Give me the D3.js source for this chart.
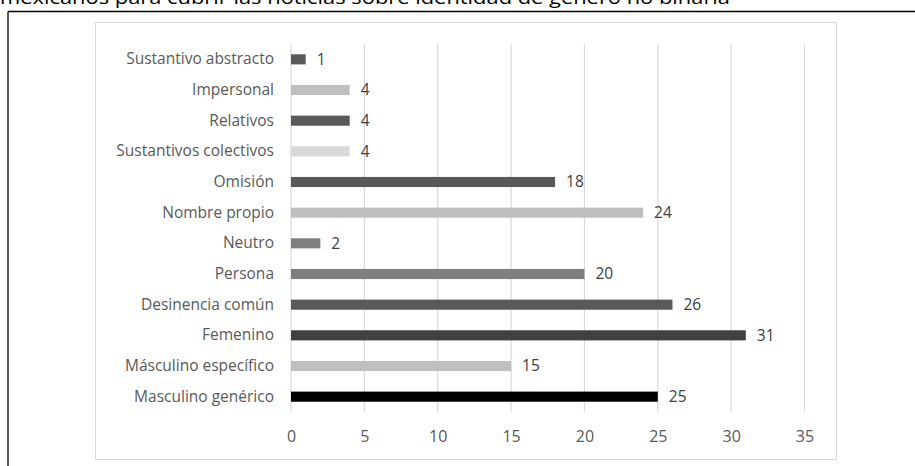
<!DOCTYPE html>
<html><head><meta charset="utf-8">
<script src="https://cdn.jsdelivr.net/npm/d3@7"></script>
<style>body{margin:0;background:#fff;overflow:hidden}svg{display:block}</style>
</head><body>
<svg id="c" width="915" height="466"></svg>
<script>
const categories = ["Sustantivo abstracto","Impersonal","Relativos","Sustantivos colectivos","Omisión","Nombre propio","Neutro","Persona","Desinencia común","Femenino","Másculino específico","Masculino genérico"];
const values = [1,4,4,4,18,24,2,20,26,31,15,25];
const barColors = ["#595959","#bfbfbf","#595959","#d9d9d9","#595959","#bfbfbf","#7f7f7f","#7f7f7f","#595959","#404040","#bfbfbf","#000000"];
const tickValues = [0,5,10,15,20,25,30,35];
const titleText = "mexicanos para cubrir las noticias sobre identidad de género no binaria";

const svg = d3.select("#c");
const font = "'Open Sans', sans-serif";

// page title (cut off at top, as in the source)
svg.append("text").attr("x",0).attr("y",3.5).attr("font-family","'Open Sans', sans-serif")
  .attr("font-size",18).attr("fill","#000").attr("textLength",730).attr("lengthAdjust","spacingAndGlyphs").text(titleText);

// black frame lines
svg.append("line").attr("x1",8).attr("x2",915).attr("y1",11.5).attr("y2",11.5).attr("stroke","#000").attr("stroke-width",1.3);
svg.append("line").attr("x1",8).attr("x2",8).attr("y1",11.5).attr("y2",466).attr("stroke","#000").attr("stroke-width",1.3);

// chart area
svg.append("rect").attr("x",95.5).attr("y",22.5).attr("width",741).attr("height",437).attr("fill","#fff").attr("stroke","#d9d9d9").attr("stroke-width",1);

const x = d3.scaleLinear().domain([0,35]).range([291,804.5]);
const y = d3.scaleBand().domain(categories).range([44,412]).paddingInner(0.67).paddingOuter(0.335);

// gridlines
svg.append("g").selectAll("line").data(tickValues).join("line")
  .attr("x1",d=>x(d)).attr("x2",d=>x(d)).attr("y1",44).attr("y2",412)
  .attr("stroke","#d9d9d9").attr("stroke-width",1.2);

// x axis labels
const xAxis = d3.axisBottom(x).tickValues(tickValues).tickSize(0).tickPadding(0);
const gx = svg.append("g").attr("transform","translate(0,436)").call(xAxis);
gx.select(".domain").remove();
gx.selectAll("text").attr("font-family",font).attr("font-size",16).attr("fill","#595959").attr("dy","0.35em");

// y axis labels
const yAxis = d3.axisLeft(y).tickSize(0).tickPadding(0);
const gy = svg.append("g").attr("transform","translate(274,0)").call(yAxis);
gy.select(".domain").remove();
gy.selectAll("text").attr("font-family",font).attr("font-size",15.5).attr("fill","#595959");

// bars
svg.append("g").selectAll("rect").data(values).join("rect")
  .attr("x",x(0)).attr("y",(d,i)=>y(categories[i]))
  .attr("width",d=>x(d)-x(0)).attr("height",y.bandwidth())
  .attr("fill",(d,i)=>barColors[i]);

// value labels
svg.append("g").selectAll("text").data(values).join("text")
  .attr("x",d=>x(d)+11).attr("y",(d,i)=>y(categories[i])+y.bandwidth()/2)
  .attr("dy","0.35em").attr("font-family",font).attr("font-size",15.5).attr("fill","#404040")
  .text(d=>d);
</script>
</body></html>
